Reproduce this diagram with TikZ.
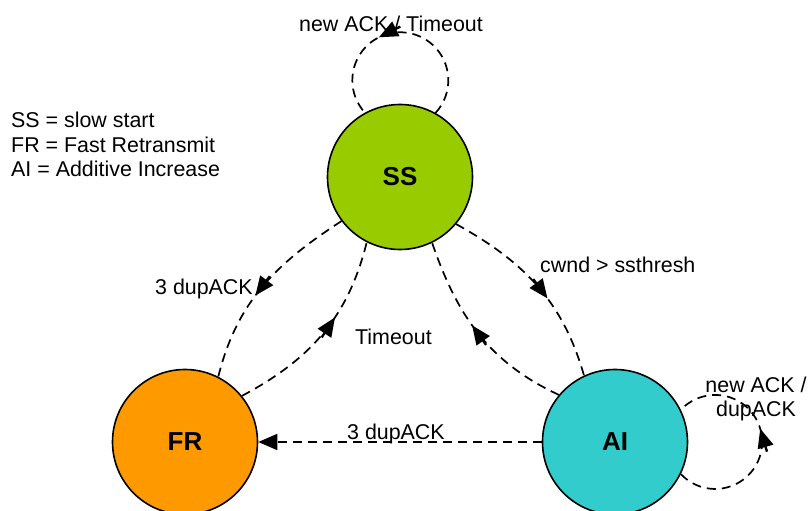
\documentclass[tikz,border=0pt]{standalone}
\usepackage{fontspec}
\setmainfont{Liberation Sans}
\usetikzlibrary{arrows.meta,decorations.markings}
\pgfdeclarelayer{bg}
\pgfsetlayers{bg,main}
\definecolor{ssgreen}{HTML}{99CC00}
\definecolor{frorange}{HTML}{FF9900}
\definecolor{aiteal}{HTML}{33CCCC}
\begin{document}
\begin{tikzpicture}[x=1pt,y=1pt,
  state/.style={circle,draw=black,line width=1.6pt,minimum size=145pt,inner sep=0pt,
    font=\fontsize{26}{30}\selectfont\bfseries},
  conn/.style={line width=1.7pt,dash pattern=on 9pt off 6pt},
  endtip/.style={-{Triangle[length=19pt 0,width=16pt 0]}},
  midarrow/.style={postaction={decorate},decoration={markings,
    mark=at position #1 with {\draw[solid,line width=2.4pt] (-24pt,0) -- (-8pt,0);
      \arrow{Triangle[length=19pt 0,width=16pt 0]}}}},
  lbl/.style={font=\fontsize{21.4}{24}\selectfont,inner sep=0pt}]
\useasboundingbox (0,0) rectangle (809,511);

% states
\node[state,fill=ssgreen] (SS) at (400,334) {SS};
\node[state,fill=frorange] (FR) at (185,69) {FR};
\node[state,fill=aiteal] (AI) at (615,69) {AI};

% connectors (behind the states)
\begin{pgfonlayer}{bg}
\draw[conn,midarrow=0.6] (SS.61) arc[start angle=-42.8,end angle=222.8,radius=48];
\draw[conn,midarrow=0.56] (SS.217) to[out=213,in=76] (FR.63);
\draw[conn,midarrow=0.6] (FR.39) to[out=28,in=256] (SS.243);
\draw[conn,midarrow=0.58] (SS.320) to[out=331,in=106] (AI.115);
\draw[conn,midarrow=0.55] (AI.140) to[out=155,in=289] (SS.296);
\draw[conn,endtip] (AI.west) -- (FR.east);
\draw[conn,midarrow=0.56] (AI.-26) arc[start angle=-136.8,end angle=136.8,radius=47];
\end{pgfonlayer}

% labels
\node[lbl,anchor=base west] (lss) at (299,479) {new ACK / Timeout};
\node[lbl,anchor=base west] (leg1) at (11,383) {SS = slow start};
\node[lbl,anchor=base west] (leg2) at (11,358.5) {FR = Fast Retransmit};
\node[lbl,anchor=base west] (leg3) at (11,334) {AI = Additive Increase};
\node[lbl,anchor=base west] (l1) at (155,216) {3 dupACK};
\node[lbl,anchor=base west] (l2) at (355,166) {Timeout};
\node[lbl,anchor=base west] (l3) at (540,238) {cwnd > ssthresh};
\node[lbl,anchor=base west] (l5) at (347,71) {3 dupACK};
\node[lbl,anchor=north,align=center] (lai) at (756,134) {new ACK /\\dupACK};
\end{tikzpicture}
\end{document}
